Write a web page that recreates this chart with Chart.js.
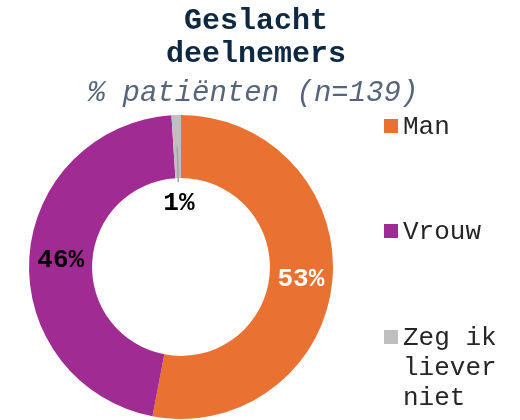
<!DOCTYPE html>
<html><head><meta charset="utf-8">
<script src="https://cdn.jsdelivr.net/npm/chart.js@4.4.1/dist/chart.umd.min.js"></script>
<style>html,body{margin:0;padding:0;background:#fff;} canvas{display:block;}</style>
</head><body>
<canvas id="c" width="520" height="420"></canvas>
<script>
const titleLines = ['Geslacht', 'deelnemers'];
const subtitleText = '% patiënten (n=139)';
const categories = ['Man', 'Vrouw', 'Zeg ik liever niet'];
const legendLines = [['Man'], ['Vrouw'], ['Zeg ik', 'liever', 'niet']];
const values = [53, 46, 1];
const valueLabels = ['53%', '46%', '1%'];
const colors = ['#E97132', '#A02B93', '#BFBFBF'];
const labelColors = ['#FFFFFF', '#000000', '#000000'];

const MONO = "'Liberation Mono', 'Courier New', monospace";

const decorPlugin = {
  id: 'decor',
  afterDatasetsDraw(chart) {
    const ctx = chart.ctx;
    const meta = chart.getDatasetMeta(0);
    ctx.save();
    ctx.textAlign = 'center';
    ctx.textBaseline = 'middle';
    meta.data.forEach((arc, i) => {
      const p = arc.getProps(['x','y','startAngle','endAngle','innerRadius','outerRadius']);
      const mid = (p.startAngle + p.endAngle) / 2;
      const span = p.endAngle - p.startAngle;
      const cx = Math.cos(mid), cy = Math.sin(mid);
      ctx.font = 'bold 26px ' + MONO;
      ctx.fillStyle = labelColors[i];
      if (span > 0.3) {
        const r = (p.innerRadius + p.outerRadius) / 2;
        ctx.fillText(valueLabels[i], p.x + cx * r, p.y + cy * r + 1);
      } else {
        const r1 = (p.innerRadius + p.outerRadius) / 2;
        const r2 = p.innerRadius - 4;
        ctx.strokeStyle = '#A6A6A6';
        ctx.lineWidth = 1.5;
        ctx.beginPath();
        ctx.moveTo(p.x + cx * r1, p.y + cy * r1);
        ctx.lineTo(p.x + cx * r2, p.y + cy * r2);
        ctx.stroke();
        const r3 = p.innerRadius - 24;
        ctx.fillText(valueLabels[i], p.x + cx * r3, p.y + cy * r3 + 1);
      }
    });
    ctx.restore();
  },
  afterDraw(chart) {
    const ctx = chart.ctx;
    ctx.save();
    ctx.textAlign = 'center';
    ctx.textBaseline = 'middle';
    ctx.fillStyle = '#0E2841';
    ctx.font = 'bold 30px ' + MONO;
    ctx.fillText(titleLines[0], 256, 21);
    ctx.fillText(titleLines[1], 256, 54);
    ctx.fillStyle = '#56657A';
    ctx.font = 'italic 29px ' + MONO;
    ctx.fillText(subtitleText, 253, 93);

    const legendY = [126, 231, 337];
    ctx.textAlign = 'left';
    legendLines.forEach((lines, i) => {
      ctx.fillStyle = colors[i];
      ctx.fillRect(384, legendY[i] - 7, 14, 14);
      ctx.fillStyle = '#262626';
      ctx.font = '26px ' + MONO;
      lines.forEach((ln, j) => {
        ctx.fillText(ln, 403, legendY[i] + j * 30 + 1);
      });
    });
    ctx.restore();
  }
};

new Chart(document.getElementById('c'), {
  type: 'doughnut',
  data: {
    labels: categories,
    datasets: [{
      data: values,
      backgroundColor: colors,
      borderWidth: 0
    }]
  },
  options: {
    responsive: false,
    devicePixelRatio: 1,
    animation: false,
    cutout: '58.5%',
    layout: { padding: { top: 115, left: 29, right: 187, bottom: 1 } },
    plugins: {
      legend: { display: false },
      title: { display: false },
      tooltip: { enabled: false }
    }
  },
  plugins: [decorPlugin]
});
</script>
</body></html>
